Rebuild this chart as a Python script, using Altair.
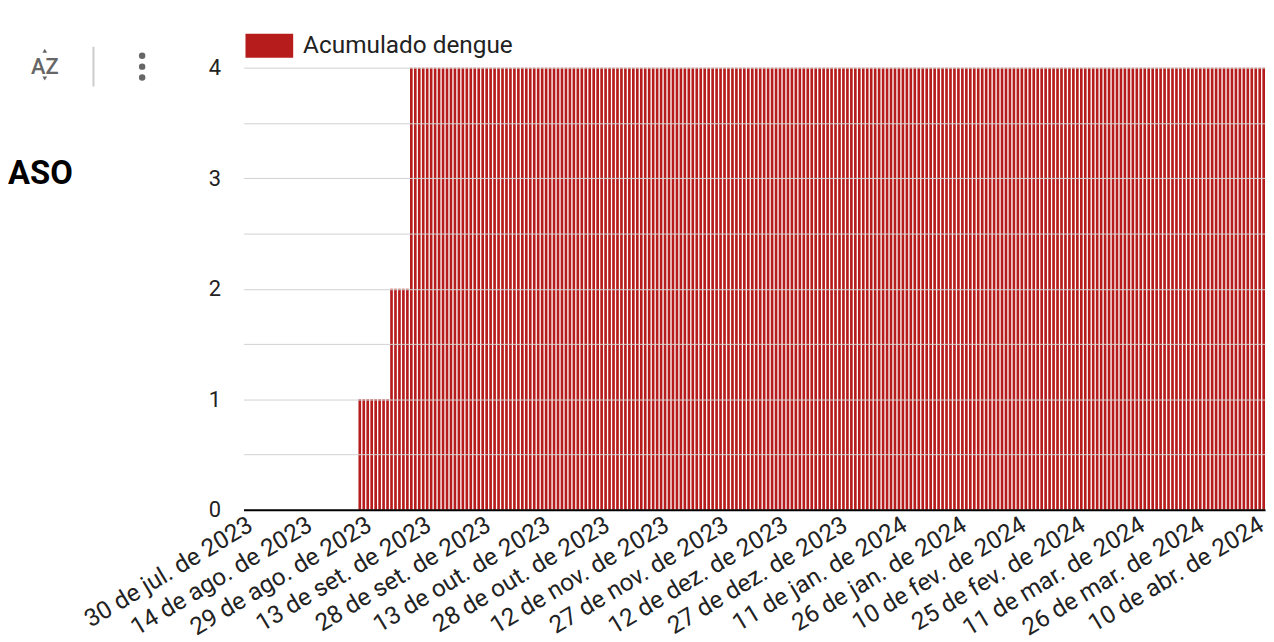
import datetime as dt
import altair as alt
import pandas as pd

# ---------------- data ----------------
SERIE = "Acumulado dengue"
MESES = ["jan.", "fev.", "mar.", "abr.", "mai.", "jun.",
         "jul.", "ago.", "set.", "out.", "nov.", "dez."]
PRIMEIRO_DIA = dt.date(2023, 7, 30)
N_DIAS = 258
run_values = [0, 1, 2, 4]
run_lengths = [29, 8, 5, 216]
tick_labels = [
    "30 de jul. de 2023", "14 de ago. de 2023", "29 de ago. de 2023",
    "13 de set. de 2023", "28 de set. de 2023", "13 de out. de 2023",
    "28 de out. de 2023", "12 de nov. de 2023", "27 de nov. de 2023",
    "12 de dez. de 2023", "27 de dez. de 2023", "11 de jan. de 2024",
    "26 de jan. de 2024", "10 de fev. de 2024", "25 de fev. de 2024",
    "11 de mar. de 2024", "26 de mar. de 2024", "10 de abr. de 2024",
]
y_grid_values = [0, 0.5, 1, 1.5, 2, 2.5, 3, 3.5, 4]


def rotulo(d):
    return f"{d.day} de {MESES[d.month - 1]} de {d.year}"


dias = [rotulo(PRIMEIRO_DIA + dt.timedelta(days=i)) for i in range(N_DIAS)]
valores = []
for v, n in zip(run_values, run_lengths):
    valores += [v] * n

df = pd.DataFrame({"dia": dias, "valor": valores, "serie": SERIE})

RED = "#b71c1c"
FONT = "Roboto"

bars = alt.Chart(df).mark_bar().encode(
    x=alt.X(
        "dia:O", sort=None,
        scale=alt.Scale(paddingInner=0.33, paddingOuter=0),
        axis=alt.Axis(
            values=tick_labels, labelAngle=-31, labelAlign="right",
            labelBaseline="top", labelFontSize=24.5, labelFont=FONT,
            labelColor="#222222", ticks=False, domainColor="#000000",
            domainWidth=2, title=None, grid=False, labelPadding=3,
            labelOverlap=False, labelLimit=0, zindex=1,
        ),
    ),
    y=alt.Y(
        "valor:Q",
        scale=alt.Scale(domain=[0, 4], nice=False),
        axis=alt.Axis(
            values=y_grid_values,
            labelExpr="datum.value % 1 == 0 ? format(datum.value, 'd') : ''",
            labelFontSize=22, labelFont=FONT, labelColor="#222222",
            domain=False, ticks=False, title=None, grid=True,
            gridColor="#d2d2d2", gridWidth=1, labelPadding=23, zindex=1,
        ),
    ),
    color=alt.Color(
        "serie:N",
        scale=alt.Scale(domain=[SERIE], range=[RED]),
        legend=alt.Legend(
            orient="none", legendX=2, legendY=-46, title=None,
            symbolType="M-1,-0.5H1V0.5H-1Z", symbolSize=2304,
            symbolStrokeWidth=0, symbolOpacity=1,
            labelFontSize=24.5, labelFont=FONT, labelColor="#222222",
            labelOffset=10, labelLimit=0, padding=0,
        ),
    ),
)

one = pd.DataFrame({"t": [""]})

titulo = alt.Chart(pd.DataFrame({"t": ["ASO"]})).mark_text(
    align="left", baseline="alphabetic", fontSize=33, fontWeight="bold",
    font=FONT, color="#000000",
).encode(x=alt.value(-237), y=alt.value(117), text="t:N")

az = alt.Chart(pd.DataFrame({"t": ["AZ"]})).mark_text(
    align="center", baseline="alphabetic", fontSize=22, fontWeight=500,
    font=FONT, color="#666666",
).encode(x=alt.value(-200), y=alt.value(6), text="t:N")

tri_up = alt.Chart(one).mark_point(
    shape="triangle-up", filled=True, size=22, color="#666666", opacity=1
).encode(x=alt.value(-200), y=alt.value(-17))

tri_down = alt.Chart(one).mark_point(
    shape="triangle-down", filled=True, size=22, color="#666666", opacity=1
).encode(x=alt.value(-200), y=alt.value(11))

sep = alt.Chart(one).mark_rule(color="#cccccc", strokeWidth=2).encode(
    x=alt.value(-151), y=alt.value(-21), y2=alt.value(19)
)

dots = [
    alt.Chart(one).mark_circle(size=42, color="#666666", opacity=1).encode(
        x=alt.value(-102), y=alt.value(py)
    )
    for py in (-12, -1, 10)
]

chart = alt.layer(bars, titulo, az, tri_up, tri_down, sep, *dots).properties(
    width=1028,
    height=445,
    autosize=alt.AutoSizeParams(type="none"),
    padding={"left": 237, "top": 58, "right": 1, "bottom": 134},
).configure_view(stroke=None)

chart.save("out.html", embed_options={"renderer": "svg", "actions": False})
